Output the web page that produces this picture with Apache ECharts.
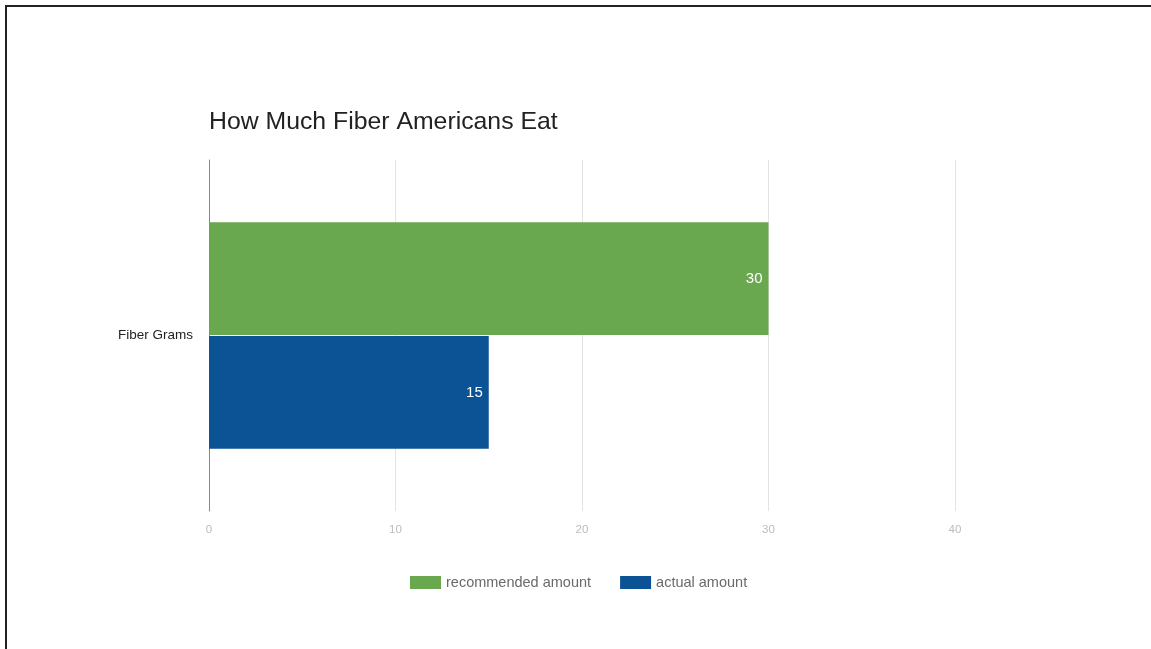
<!DOCTYPE html>
<html>
<head>
<meta charset="utf-8">
<script src="https://cdn.jsdelivr.net/npm/echarts@6/dist/echarts.min.js"></script>
<style>
html,body{margin:0;padding:0;background:#fff;}
#frame{position:absolute;left:5px;top:5px;width:1146px;height:644px;border-top:2px solid #222;border-left:2px solid #222;box-sizing:border-box;}
#chart{position:absolute;left:0;top:0;width:1151px;height:649px;}
</style>
</head>
<body>
<div id="frame"></div>
<div id="chart"></div>
<script>
const categories = ['Fiber Grams'];
const recommended = [30];
const actual = [15];
const seriesNames = ['recommended amount', 'actual amount'];
const xTicks = [0, 10, 20, 30, 40];

const chart = echarts.init(document.getElementById('chart'), null, {renderer: 'canvas'});
chart.setOption({
  animation: false,
  title: {
    text: 'How Much Fiber Americans Eat',
    left: 204, top: 105,
    textStyle: {fontFamily: 'Liberation Sans, Arial', fontSize: 24.8, fontWeight: 'normal', color: '#222'}
  },
  legend: {
    data: seriesNames,
    left: 405, top: 570,
    icon: 'rect', itemWidth: 31, itemHeight: 13, itemGap: 29,
    textStyle: {fontFamily: 'Liberation Sans, Arial', fontSize: 14.5, color: '#6a6a6a'}
  },
  grid: {left: 209, right: 196, top: 160, bottom: 138, containLabel: false},
  xAxis: {
    type: 'value', min: xTicks[0], max: xTicks[xTicks.length - 1], interval: 10,
    axisLine: {show: false}, axisTick: {show: false},
    axisLabel: {color: '#bbb', fontSize: 11.5, margin: 13, fontFamily: 'Liberation Sans, Arial'},
    splitLine: {show: true, lineStyle: {color: '#e3e3e3', width: 1}}
  },
  yAxis: {
    type: 'category', data: categories, inverse: true,
    axisLine: {show: true, lineStyle: {color: '#888', width: 1}},
    axisTick: {show: false},
    axisLabel: {color: '#222', fontSize: 13.5, margin: 16, fontFamily: 'Liberation Sans, Arial'}
  },
  series: [
    {name: seriesNames[0], type: 'bar', data: recommended, barGap: '1%', barCategoryGap: '35.5%',
     itemStyle: {color: '#6aa84f'},
     label: {show: true, position: 'insideRight', color: '#fff', fontSize: 15, distance: 6, fontFamily: 'Liberation Sans, Arial'}},
    {name: seriesNames[1], type: 'bar', data: actual, barGap: '1%', barCategoryGap: '35.5%',
     itemStyle: {color: '#0b5394'},
     label: {show: true, position: 'insideRight', color: '#fff', fontSize: 15, distance: 6, fontFamily: 'Liberation Sans, Arial'}}
  ]
});
</script>
</body>
</html>
